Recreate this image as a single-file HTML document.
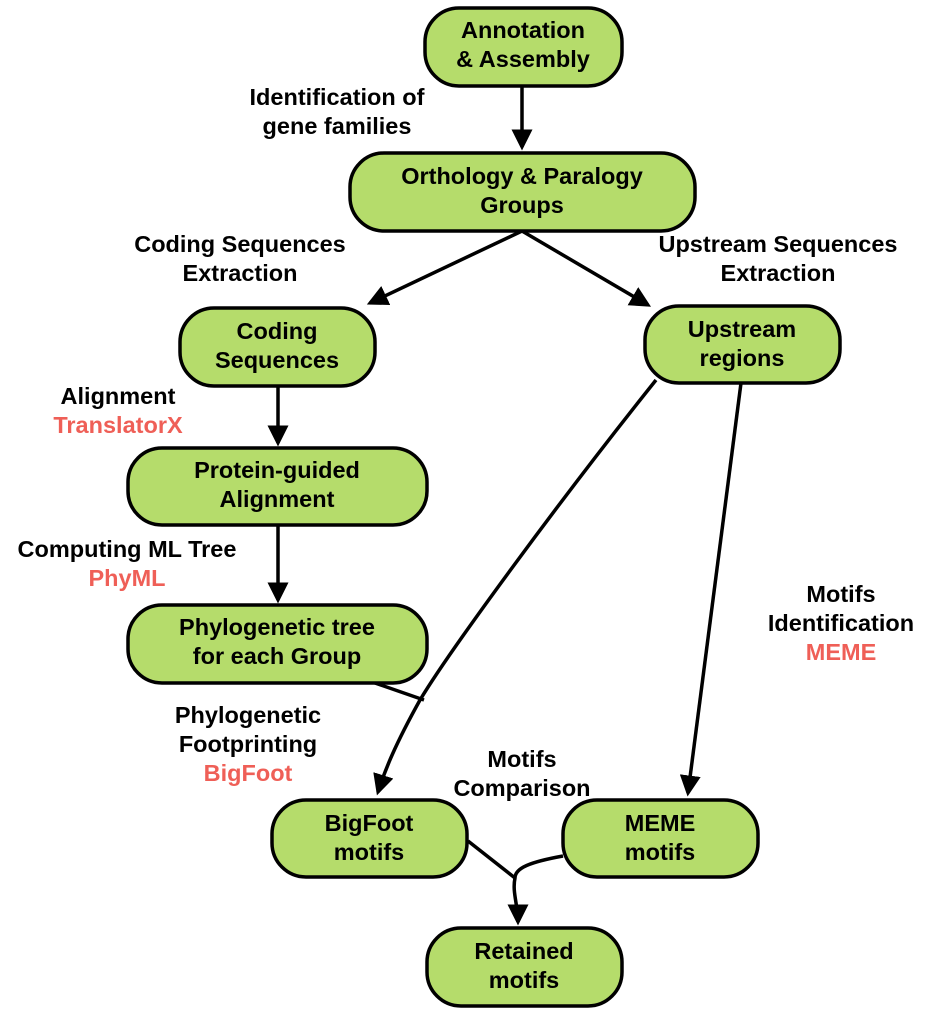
<!DOCTYPE html>
<html><head><meta charset="utf-8"><style>
html,body{margin:0;padding:0;background:#fff;}
svg{display:block;}
text{font-family:"Liberation Sans",sans-serif;font-size:23.5px;font-weight:bold;text-anchor:middle;fill:#000;}
.r{fill:#ef5f57;}
rect{fill:#b5dc6b;stroke:#000;stroke-width:3.5;}
.e{fill:none;stroke:#000;stroke-width:3.5;}
</style></head><body>
<svg width="931" height="1010" viewBox="0 0 931 1010" xmlns="http://www.w3.org/2000/svg">
<defs><marker id="a" markerWidth="6" markerHeight="6" refX="5" refY="3" orient="auto" markerUnits="strokeWidth"><path d="M0,0 L6,3 L0,6 z" fill="#000"/></marker></defs>
<path class="e" d="M522,86 L522,147" marker-end="url(#a)"/>
<path class="e" d="M522,231 L370,303" marker-end="url(#a)"/>
<path class="e" d="M522,231 L648,305" marker-end="url(#a)"/>
<path class="e" d="M278,386 L278,443" marker-end="url(#a)"/>
<path class="e" d="M278,525 L278,600" marker-end="url(#a)"/>
<path class="e" d="M656,380 C560,500 450,650 420,700 C395,745 385,770 378,792" marker-end="url(#a)"/>
<path class="e" d="M375,683 L424,700"/>
<path class="e" d="M741,383 L688,793" marker-end="url(#a)"/>
<path class="e" d="M468,841 L515,878"/>
<path class="e" d="M563,856 C530,862 515,868 515,878 C512,892 518,905 518,922" marker-end="url(#a)"/>
<rect x="425" y="8" width="197" height="78" rx="34"/>
<rect x="350" y="153" width="345" height="78" rx="34"/>
<rect x="180" y="308" width="195" height="78" rx="34"/>
<rect x="645" y="306" width="195" height="77" rx="34"/>
<rect x="128" y="448" width="299" height="77" rx="34"/>
<rect x="128" y="605" width="299" height="78" rx="34"/>
<rect x="272" y="800" width="195" height="77" rx="34"/>
<rect x="563" y="800" width="195" height="77" rx="34"/>
<rect x="427" y="928" width="195" height="78" rx="34"/>
<text x="523" y="38">Annotation</text><text x="523" y="67">&amp; Assembly</text>
<text x="522" y="184">Orthology &amp; Paralogy</text><text x="522" y="213">Groups</text>
<text x="277" y="339">Coding</text><text x="277" y="368">Sequences</text>
<text x="742" y="337">Upstream</text><text x="742" y="366">regions</text>
<text x="277" y="478">Protein-guided</text><text x="277" y="507">Alignment</text>
<text x="277" y="635">Phylogenetic tree</text><text x="277" y="664">for each Group</text>
<text x="369" y="831">BigFoot</text><text x="369" y="860">motifs</text>
<text x="660" y="831">MEME</text><text x="660" y="860">motifs</text>
<text x="524" y="959">Retained</text><text x="524" y="988">motifs</text>
<text x="337" y="105">Identification of</text><text x="337" y="134">gene families</text>
<text x="240" y="252">Coding Sequences</text><text x="240" y="281">Extraction</text>
<text x="778" y="252">Upstream Sequences</text><text x="778" y="281">Extraction</text>
<text x="118" y="404">Alignment</text><text class="r" x="118" y="433">TranslatorX</text>
<text x="127" y="557">Computing ML Tree</text><text class="r" x="127" y="586">PhyML</text>
<text x="841" y="602">Motifs</text><text x="841" y="631">Identification</text><text class="r" x="841" y="660">MEME</text>
<text x="248" y="723">Phylogenetic</text><text x="248" y="752">Footprinting</text><text class="r" x="248" y="781">BigFoot</text>
<text x="522" y="767">Motifs</text><text x="522" y="796">Comparison</text>
</svg>
</body></html>
